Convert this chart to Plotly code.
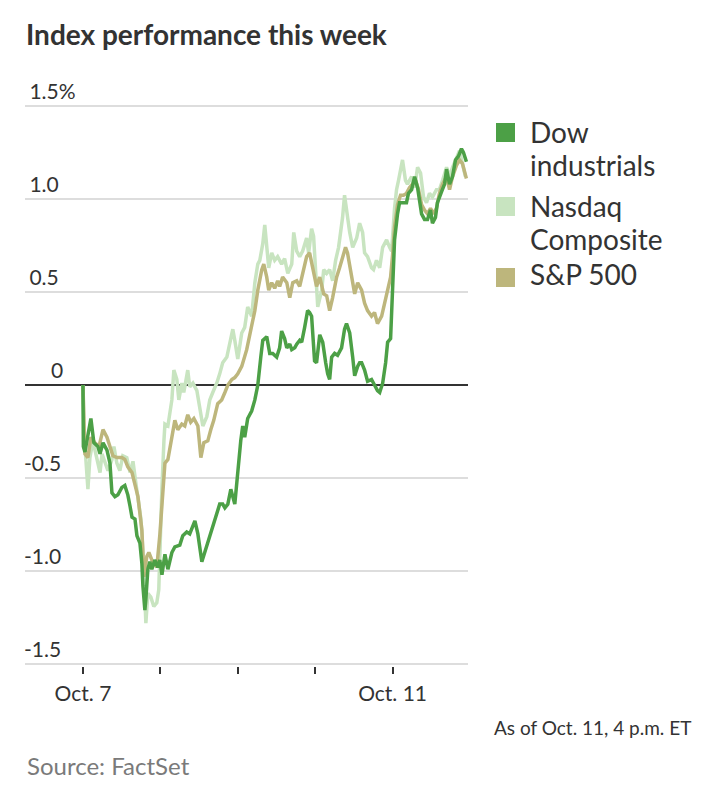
import plotly.graph_objects as go

# trading minutes since Oct. 7 open (390 per session) and % change
dow_min = [0, 2, 10, 25, 40, 55, 75, 86, 101, 121, 136, 146, 161, 176, 196, 211, 226, 237, 247, 262, 272, 287, 297, 302, 312, 317, 327, 337, 347, 362, 377, 387, 398, 413, 428, 448, 463, 488, 503, 523, 538, 564, 579, 599, 614, 639, 664, 689, 704, 715, 730, 745, 765, 780, 795, 805, 815, 830, 850, 866, 881, 896, 906, 926, 941, 956, 976, 991, 1001, 1016, 1027, 1042, 1052, 1067, 1077, 1092, 1102, 1117, 1132, 1142, 1152, 1167, 1177, 1193, 1208, 1223, 1233, 1243, 1253, 1268, 1283, 1303, 1318, 1328, 1344, 1359, 1369, 1384, 1394, 1404, 1419, 1434, 1454, 1469, 1484, 1495, 1510, 1525, 1535, 1550, 1560, 1570, 1585, 1595, 1610, 1630, 1640, 1656, 1671, 1686, 1696, 1706, 1721, 1736, 1751, 1761, 1776, 1786, 1807, 1822, 1832, 1847, 1862, 1877, 1892, 1907, 1917, 1932]
dow_val = [0.00, -0.33, -0.36, -0.27, -0.18, -0.31, -0.33, -0.37, -0.31, -0.35, -0.42, -0.58, -0.60, -0.59, -0.55, -0.54, -0.59, -0.65, -0.71, -0.72, -0.81, -0.85, -0.96, -1.08, -1.21, -1.15, -0.99, -0.95, -0.99, -0.94, -0.98, -0.94, -1.02, -0.91, -0.99, -0.90, -0.87, -0.86, -0.81, -0.79, -0.80, -0.73, -0.80, -0.95, -0.90, -0.81, -0.73, -0.64, -0.64, -0.66, -0.64, -0.56, -0.64, -0.45, -0.30, -0.22, -0.28, -0.18, -0.14, -0.08, 0.00, 0.15, 0.24, 0.26, 0.17, 0.17, 0.15, 0.20, 0.29, 0.25, 0.20, 0.22, 0.19, 0.20, 0.22, 0.24, 0.23, 0.31, 0.40, 0.39, 0.37, 0.13, 0.12, 0.27, 0.23, 0.12, 0.06, 0.03, 0.15, 0.17, 0.16, 0.20, 0.30, 0.33, 0.28, 0.15, 0.05, 0.10, 0.12, 0.12, 0.08, 0.02, 0.03, 0.00, -0.03, -0.04, 0.01, 0.12, 0.23, 0.25, 0.58, 0.78, 0.92, 0.98, 0.98, 0.98, 1.03, 1.05, 1.12, 1.06, 0.99, 0.92, 0.89, 0.89, 0.94, 0.87, 0.90, 0.98, 1.04, 1.08, 1.16, 1.08, 1.12, 1.21, 1.23, 1.27, 1.25, 1.20]

nasdaq_min = [0, 5, 25, 35, 50, 70, 86, 96, 111, 126, 146, 156, 171, 186, 201, 221, 237, 252, 267, 277, 292, 302, 312, 317, 327, 342, 357, 372, 382, 387, 398, 408, 413, 428, 448, 458, 473, 483, 498, 508, 528, 538, 554, 574, 589, 604, 624, 639, 654, 674, 689, 704, 725, 740, 755, 765, 780, 800, 815, 830, 850, 866, 881, 891, 906, 916, 926, 936, 951, 966, 981, 1001, 1016, 1032, 1052, 1062, 1077, 1092, 1107, 1127, 1137, 1152, 1162, 1172, 1183, 1203, 1213, 1228, 1243, 1258, 1273, 1288, 1308, 1318, 1328, 1344, 1359, 1379, 1394, 1409, 1419, 1434, 1454, 1464, 1479, 1495, 1510, 1530, 1545, 1555, 1570, 1580, 1590, 1600, 1610, 1625, 1635, 1656, 1671, 1686, 1701, 1716, 1731, 1746, 1761, 1781, 1796, 1812, 1832, 1847, 1862, 1882, 1897, 1912, 1927]
nasdaq_val = [0.00, -0.25, -0.56, -0.39, -0.30, -0.40, -0.47, -0.37, -0.42, -0.46, -0.40, -0.33, -0.42, -0.46, -0.38, -0.39, -0.47, -0.41, -0.53, -0.60, -0.72, -0.89, -1.10, -1.28, -1.12, -1.14, -1.19, -1.17, -1.10, -0.90, -0.55, -0.30, -0.21, -0.22, -0.08, 0.08, 0.03, -0.08, 0.01, -0.04, 0.08, -0.01, 0.01, -0.03, -0.12, -0.22, -0.17, -0.08, -0.04, 0.01, 0.06, 0.12, 0.15, 0.23, 0.30, 0.24, 0.14, 0.28, 0.31, 0.42, 0.37, 0.55, 0.65, 0.67, 0.76, 0.86, 0.76, 0.63, 0.71, 0.67, 0.69, 0.65, 0.68, 0.60, 0.65, 0.82, 0.72, 0.69, 0.72, 0.79, 0.71, 0.84, 0.80, 0.62, 0.42, 0.51, 0.62, 0.60, 0.62, 0.56, 0.67, 0.74, 0.90, 1.02, 0.94, 0.82, 0.74, 0.79, 0.87, 0.82, 0.71, 0.69, 0.63, 0.62, 0.67, 0.63, 0.74, 0.78, 0.74, 0.72, 0.95, 1.05, 1.10, 1.15, 1.21, 1.10, 1.08, 1.12, 1.06, 1.17, 1.14, 1.01, 0.98, 1.03, 1.01, 1.05, 1.05, 1.10, 1.17, 1.12, 1.17, 1.22, 1.26, 1.19, 1.12]

sp_min = [0, 10, 25, 40, 60, 81, 101, 121, 136, 151, 171, 196, 211, 226, 247, 262, 277, 297, 307, 322, 332, 347, 362, 372, 387, 398, 413, 428, 443, 463, 478, 498, 513, 528, 543, 559, 579, 594, 609, 629, 644, 659, 679, 699, 715, 730, 750, 765, 780, 800, 825, 850, 866, 881, 901, 911, 926, 936, 951, 966, 981, 991, 1006, 1027, 1042, 1057, 1077, 1092, 1107, 1127, 1142, 1157, 1177, 1193, 1213, 1228, 1243, 1258, 1278, 1293, 1308, 1323, 1333, 1354, 1369, 1384, 1404, 1419, 1434, 1454, 1469, 1484, 1505, 1520, 1535, 1550, 1560, 1570, 1585, 1600, 1615, 1630, 1645, 1661, 1676, 1691, 1706, 1721, 1736, 1751, 1766, 1781, 1796, 1812, 1832, 1847, 1862, 1882, 1897, 1912, 1932]
sp_val = [0.00, -0.37, -0.39, -0.28, -0.31, -0.33, -0.24, -0.28, -0.33, -0.38, -0.39, -0.39, -0.40, -0.44, -0.47, -0.53, -0.60, -0.78, -1.03, -0.92, -0.90, -0.94, -0.96, -0.98, -0.81, -0.62, -0.42, -0.40, -0.30, -0.19, -0.24, -0.21, -0.22, -0.16, -0.20, -0.18, -0.22, -0.39, -0.31, -0.30, -0.24, -0.19, -0.10, -0.08, -0.04, 0.00, 0.03, 0.04, 0.06, 0.10, 0.19, 0.31, 0.40, 0.51, 0.62, 0.65, 0.58, 0.51, 0.55, 0.52, 0.56, 0.53, 0.58, 0.55, 0.47, 0.55, 0.56, 0.53, 0.60, 0.69, 0.71, 0.63, 0.53, 0.58, 0.49, 0.48, 0.40, 0.47, 0.58, 0.63, 0.69, 0.74, 0.71, 0.58, 0.49, 0.55, 0.51, 0.44, 0.40, 0.37, 0.39, 0.33, 0.37, 0.44, 0.51, 0.58, 0.70, 0.85, 0.97, 1.02, 1.02, 1.03, 1.06, 1.08, 1.10, 1.05, 0.97, 0.94, 0.92, 0.95, 0.92, 0.95, 1.03, 1.08, 1.12, 1.05, 1.12, 1.18, 1.21, 1.19, 1.11]

day_ticks = [0, 390, 780, 1170, 1560]
day_labels = ["Oct. 7", "", "", "", "Oct. 11"]
y_ticks = [-1.5, -1.0, -0.5, 0, 0.5, 1.0, 1.5]
NB = "\u00a0"
y_labels = ["-1.5", "-1.0", "-0.5", NB * 5 + "0", NB + "0.5", NB + "1.0", NB + "1.5%"]

legend_lines = [["Dow", "industrials"], ["Nasdaq", "Composite"], ["S&P 500"]]
legend_keys = ["dow", "nasdaq", "sp"]
colors = {"dow": "#4ca046", "nasdaq": "#c8e4c0", "sp": "#bdb67c"}

SANS = "Lato, 'Noto Sans', sans-serif"
NARROW = "'Liberation Sans Narrow', 'Arial Narrow', Lato, sans-serif"
INK = "#333333"

fig = go.Figure()
fig.add_trace(go.Scatter(x=nasdaq_min, y=nasdaq_val, mode="lines", name="Nasdaq Composite",
                         line=dict(color=colors["nasdaq"], width=3.5), showlegend=False))
fig.add_trace(go.Scatter(x=sp_min, y=sp_val, mode="lines", name="S&P 500",
                         line=dict(color=colors["sp"], width=3.5), showlegend=False))
fig.add_trace(go.Scatter(x=dow_min, y=dow_val, mode="lines", name="Dow industrials",
                         line=dict(color=colors["dow"], width=3.5), showlegend=False))

# page body adds an 8px offset; work in page pixels and convert
OFF = 8
Y_TOP, Y_BOT = 1.72, -1.51
UNIT = 186.3            # pixels per 1 percentage point
ZERO_PX = 385           # page row of the zero line
W, H = 713 - OFF, 800 - OFF
top_px = round(ZERO_PX - Y_TOP * UNIT)
bot_px = round(ZERO_PX - Y_BOT * UNIT)
L, R, T, B = 25 - OFF, 713 - 468, top_px - OFF, 800 - bot_px
pw, ph = W - L - R, H - T - B

def px_x(p):
    return (p - OFF - L) / pw

def px_y(p):
    return (H - B - (p - OFF)) / ph

shapes = []
annotations = []
sq_tops = [123, 197, 268]
line_mids = [[132, 165], [206, 239], [274]]
for key, top, lines, mids in zip(legend_keys, sq_tops, legend_lines, line_mids):
    shapes.append(dict(type="rect", xref="paper", yref="paper",
                       x0=px_x(496), x1=px_x(515), y0=px_y(top + 19), y1=px_y(top),
                       fillcolor=colors[key], line=dict(width=0)))
    for txt, mid in zip(lines, mids):
        annotations.append(dict(text=txt, xref="paper", yref="paper", x=px_x(528), y=px_y(mid),
                                xanchor="left", yanchor="middle", showarrow=False, align="left",
                                font=dict(family=SANS, size=28, color=INK)))

annotations.append(dict(text="As of Oct. 11, 4 p.m. ET", xref="paper", yref="paper",
                        x=px_x(693), y=px_y(727), xanchor="right", yanchor="middle",
                        showarrow=False, font=dict(family=NARROW, size=19, color=INK)))
annotations.append(dict(text="Source: FactSet", xref="paper", yref="paper",
                        x=px_x(25), y=px_y(765), xanchor="left", yanchor="middle",
                        showarrow=False, font=dict(family=NARROW, size=24, color="#7a7a7a")))

fig.update_layout(
    width=W, height=H, autosize=False,
    margin=dict(l=L, r=R, t=T, b=B, autoexpand=False),
    paper_bgcolor="white", plot_bgcolor="white",
    title=dict(text="<b>Index performance this week</b>", x=(26 - OFF) / W, xref="container",
               xanchor="left", y=1 - (35 - OFF) / H, yref="container", yanchor="middle",
               font=dict(family=SANS, size=28, color=INK)),
    shapes=shapes, annotations=annotations,
    xaxis=dict(range=[-292, 1940], tickvals=day_ticks, ticktext=day_labels, showgrid=False,
               zeroline=False, showline=False, ticks="outside", ticklen=7, tickwidth=1.5,
               tickcolor=INK, tickfont=dict(family=NARROW, size=21, color=INK),
               ticklabelstandoff=2, automargin=False),
    yaxis=dict(range=[Y_BOT, Y_TOP], tickvals=y_ticks, ticktext=y_labels, showgrid=True,
               gridcolor="#dddddd", gridwidth=1.5, zeroline=True, zerolinecolor=INK,
               zerolinewidth=1.5, showline=False, ticks="", ticklabelposition="inside top",
               ticklabelstandoff=-4, automargin=False,
               tickfont=dict(family=SANS, size=21, color=INK)),
)

fig.write_html("out.html")
